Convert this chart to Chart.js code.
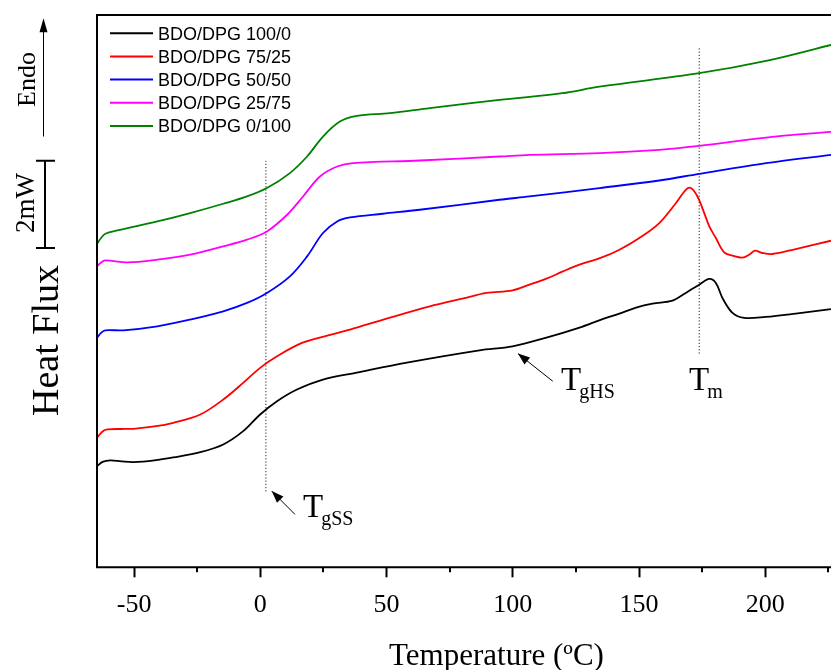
<!DOCTYPE html>
<html>
<head>
<meta charset="utf-8">
<script src="https://cdn.jsdelivr.net/npm/chart.js@4.4.0/dist/chart.umd.min.js"></script>
<style>
  html, body { margin: 0; padding: 0; background: #fff; overflow: hidden; }
  #wrap { position: relative; width: 831px; height: 670px; }
</style>
</head>
<body>
<div id="wrap"><canvas id="dsc"></canvas></div>
<script>
// DSC heating scans for the BDO/DPG chain extender series
// Heat flux in arbitrary units (curves are shifted vertically, axis is unlabelled)

const seriesNames = ['BDO/DPG 100/0', 'BDO/DPG 75/25', 'BDO/DPG 50/50', 'BDO/DPG 25/75', 'BDO/DPG 0/100'];
const seriesColors = ['#000000', '#ff0000', '#0000ff', '#ff00ff', '#008000'];

const xTicks = [-50, 0, 50, 100, 150, 200];
const xMinorTicks = [-25, 25, 75, 125, 175, 225];

// BDO/DPG 100/0
const blackT = [-64.7, -62.5, -59.4, -55, -50.3, -42, -34.5, -23.8, -14.7, -6.8, -0.1, 6.6, 14.5, 24.8, 38.2, 58, 86.8, 99.9, 113.3, 126.4, 135, 142.2, 148.8, 155.3, 163.2, 168.5, 173.8, 177.8, 180.4, 183.0, 187.0, 191.6, 200.2, 212.0, 226];
const blackHF = [10.13, 10.55, 10.7, 10.6, 10.53, 10.7, 11.0, 11.53, 12.3, 13.63, 15.3, 16.63, 17.8, 18.8, 19.5, 20.5, 21.73, 22.13, 23.0, 24.0, 24.8, 25.4, 26.0, 26.4, 26.7, 27.47, 28.3, 28.87, 28.47, 26.97, 25.47, 24.97, 25.07, 25.4, 25.85];

// BDO/DPG 75/25
const redT = [-64.7, -62.5, -60.6, -55, -50.3, -42, -34.5, -23.8, -14.7, -6.8, -0.1, 6.6, 16.5, 27.2, 35.5, 50, 67.1, 80, 89.6, 99.9, 106.6, 113.3, 119.6, 126.4, 135, 142.2, 150.1, 158.0, 164.6, 168.5, 170.5, 173.1, 175.8, 177.8, 180.4, 183.7, 187.0, 190.9, 193.6, 195.9, 198.8, 202.8, 212.0, 226];
const redHF = [12.97, 13.6, 13.8, 13.85, 13.87, 14.1, 14.47, 15.3, 16.8, 18.47, 19.97, 21.13, 22.47, 23.25, 23.8, 24.9, 26.13, 26.9, 27.47, 27.73, 28.3, 28.9, 29.6, 30.3, 31.0, 31.8, 32.97, 34.47, 36.47, 37.8, 37.97, 37.13, 35.47, 34.13, 32.97, 31.53, 31.2, 31.0, 31.3, 31.7, 31.47, 31.37, 31.87, 32.7];

// BDO/DPG 50/50
const blueT = [-64.7, -63, -61.4, -54.3, -40.8, -27.8, -14.7, -5.3, 2.6, 11.7, 18.5, 24.8, 30.4, 35.5, 48.5, 63.1, 94.7, 106.6, 134.3, 158, 173.8, 200.3, 226];
const blueHF = [22.97, 23.5, 23.73, 23.73, 24.13, 24.8, 25.63, 26.47, 27.47, 29.13, 31.13, 33.47, 34.63, 35.03, 35.4, 35.8, 36.8, 37.13, 37.97, 38.73, 39.4, 40.47, 41.3];

// BDO/DPG 25/75
const magentaT = [-64.7, -63, -61.4, -52.7, -40.8, -27.8, -14.7, -5.3, 2.6, 10.6, 16.9, 23.6, 30.4, 36.6, 63.1, 94.7, 106.6, 134.3, 158, 173.8, 200.3, 226];
const magentaHF = [30.13, 30.55, 30.73, 30.53, 30.8, 31.3, 32.13, 32.8, 33.63, 35.3, 37.13, 39.13, 40.13, 40.47, 40.73, 41.13, 41.3, 41.47, 41.8, 42.2, 43.03, 43.6];

// BDO/DPG 0/100
const greenT = [-64.7, -63, -61.4, -56.6, -40.8, -27.8, -14.7, -5.3, 2.6, 11.7, 18.5, 24.8, 31.5, 38.2, 51.3, 67.1, 94.7, 119.6, 134.3, 173.8, 200.3, 226];
const greenHF = [32.4, 33.0, 33.4, 33.73, 34.63, 35.47, 36.4, 37.13, 37.97, 39.47, 41.13, 43.13, 44.63, 45.2, 45.47, 45.97, 46.8, 47.47, 48.13, 49.47, 50.7, 52.3];

// dotted guide lines
const tgssLineT = [2.2, 2.2];
const tgssLineHF = [7.6, 40.7];
const tmLineT = [173.8, 173.8];
const tmLineHF = [21.4, 52.1];

// arrows [tail, head] in (T, HF)
const tgssArrow = [[13.7, 5.3], [4.5, 7.63]];
const tghsArrow = [[115.8, 18.63], [102.0, 21.4]];

// transition labels: main, subscript, T, HF (baseline)
const transLabels = [
    ['T', 'gSS', 16.9, 5.0],
    ['T', 'gHS', 119.1, 17.8],
    ['T', 'm', 169.8, 17.8]
];

// 2 mW scale bar and Endo arrow, in HF units
const scaleBarHF = [31.97, 40.7];
const endoArrowHF = [43.13, 54.97];

const xRange = [-64.7, 226];
const yRange = [0, 55.3];

function toPoints(xs, ys) {
    return xs.map((x, i) => ({ x: x, y: ys[i] }));
}

const curves = [
    [blackT, blackHF], [redT, redHF], [blueT, blueHF], [magentaT, magentaHF], [greenT, greenHF]
];

const datasets = curves.map((c, i) => ({
    label: seriesNames[i],
    data: toPoints(c[0], c[1]),
    borderColor: seriesColors[i],
    borderWidth: 1.8,
    pointRadius: 0,
    tension: 0.35,
    fill: false
}));

[[tgssLineT, tgssLineHF], [tmLineT, tmLineHF]].forEach(l => {
    datasets.push({
        label: 'guide',
        data: toPoints(l[0], l[1]),
        borderColor: '#222',
        borderWidth: 1,
        borderDash: [1.2, 2],
        pointRadius: 0,
        tension: 0,
        fill: false
    });
});

function vText(ctx, str, x, y, font) {
    ctx.save();
    ctx.translate(x, y);
    ctx.rotate(-Math.PI / 2);
    ctx.font = font;
    ctx.textAlign = 'center';
    ctx.textBaseline = 'alphabetic';
    ctx.fillText(str, 0, 0);
    ctx.restore();
}

function arrowHead(ctx, x0, y0, x1, y1, len, half) {
    const a = Math.atan2(y1 - y0, x1 - x0);
    ctx.beginPath();
    ctx.moveTo(x1, y1);
    ctx.lineTo(x1 - len * Math.cos(a) + half * Math.sin(a), y1 - len * Math.sin(a) - half * Math.cos(a));
    ctx.lineTo(x1 - len * Math.cos(a) - half * Math.sin(a), y1 - len * Math.sin(a) + half * Math.cos(a));
    ctx.closePath();
    ctx.fill();
}

const decorPlugin = {
    id: 'decor',
    afterDraw(chart) {
        const ctx = chart.ctx;
        const ca = chart.chartArea;
        const xs = chart.scales.x;
        const ys = chart.scales.y;
        ctx.save();
        ctx.strokeStyle = '#000';
        ctx.fillStyle = '#000';

        // frame (right side is cut off in the original)
        ctx.lineWidth = 2;
        ctx.beginPath();
        ctx.moveTo(chart.width, ca.top);
        ctx.lineTo(ca.left, ca.top);
        ctx.lineTo(ca.left, ca.bottom);
        ctx.lineTo(chart.width, ca.bottom);
        ctx.stroke();

        // minor ticks
        xMinorTicks.forEach(v => {
            const px = Math.round(xs.getPixelForValue(v));
            ctx.beginPath();
            ctx.moveTo(px, ca.bottom);
            ctx.lineTo(px, ca.bottom + 5);
            ctx.stroke();
        });

        // legend
        ctx.font = '18px "Liberation Sans", Arial, sans-serif';
        ctx.textAlign = 'left';
        ctx.textBaseline = 'alphabetic';
        seriesNames.forEach((name, i) => {
            const y = 33.3 + i * 23.15;
            ctx.strokeStyle = seriesColors[i];
            ctx.lineWidth = 2;
            ctx.beginPath();
            ctx.moveTo(110, y);
            ctx.lineTo(153, y);
            ctx.stroke();
            ctx.fillText(name, 158, y + 6.5);
        });
        ctx.strokeStyle = '#000';

        // arrows to the transitions
        ctx.lineWidth = 1;
        [tgssArrow, tghsArrow].forEach(a => {
            const x0 = xs.getPixelForValue(a[0][0]), y0 = ys.getPixelForValue(a[0][1]);
            const x1 = xs.getPixelForValue(a[1][0]), y1 = ys.getPixelForValue(a[1][1]);
            ctx.beginPath();
            ctx.moveTo(x0, y0);
            ctx.lineTo(x1, y1);
            ctx.stroke();
            arrowHead(ctx, x0, y0, x1, y1, 12, 4.5);
        });

        // transition labels with subscripts
        transLabels.forEach(l => {
            const px = xs.getPixelForValue(l[2]);
            const py = ys.getPixelForValue(l[3]);
            ctx.font = '33px "Liberation Serif", "Times New Roman", serif';
            ctx.fillText(l[0], px, py);
            const w = ctx.measureText(l[0]).width;
            ctx.font = '20px "Liberation Serif", "Times New Roman", serif';
            ctx.fillText(l[1], px + w - 2, py + 8);
        });

        // Endo arrow
        const ey0 = ys.getPixelForValue(endoArrowHF[0]);
        const ey1 = ys.getPixelForValue(endoArrowHF[1]);
        ctx.lineWidth = 1;
        ctx.beginPath();
        ctx.moveTo(43.5, ey0);
        ctx.lineTo(43.5, ey1 + 10);
        ctx.stroke();
        arrowHead(ctx, 43.5, ey0, 43.5, ey1, 14, 4);
        vText(ctx, 'Endo', 35, 79.5, '26px "Liberation Serif", "Times New Roman", serif');

        // 2 mW scale bar
        const sb0 = ys.getPixelForValue(scaleBarHF[0]);
        const sb1 = ys.getPixelForValue(scaleBarHF[1]);
        ctx.lineWidth = 2;
        ctx.beginPath();
        ctx.moveTo(45, sb0); ctx.lineTo(45, sb1);
        ctx.moveTo(36, sb0); ctx.lineTo(55, sb0);
        ctx.moveTo(36, sb1); ctx.lineTo(55, sb1);
        ctx.stroke();
        vText(ctx, '2mW', 33.5, 203, '27px "Liberation Serif", "Times New Roman", serif');

        // axis titles
        vText(ctx, 'Heat Flux', 58, 340.5, '38px "Liberation Serif", "Times New Roman", serif');
        ctx.font = '31px "Liberation Serif", "Times New Roman", serif';
        ctx.textAlign = 'center';
        ctx.fillText('Temperature (\u00baC)', 496.5, 665);

        ctx.restore();
    }
};

new Chart(document.getElementById('dsc'), {
    type: 'line',
    data: { datasets: datasets },
    options: {
        responsive: true,
        maintainAspectRatio: false,
        animation: false,
        devicePixelRatio: 1,
        layout: { padding: { left: 97, top: 15, right: 0, bottom: 37.5 } },
        plugins: {
            legend: { display: false },
            tooltip: { enabled: false }
        },
        scales: {
            x: {
                type: 'linear',
                min: xRange[0],
                max: xRange[1],
                afterBuildTicks: s => { s.ticks = xTicks.map(v => ({ value: v })); },
                ticks: {
                    padding: 12,
                    color: '#000',
                    font: { family: '"Liberation Serif", "Times New Roman", serif', size: 26 },
                    callback: v => String(v),
                    maxRotation: 0,
                    autoSkip: false
                },
                grid: {
                    display: true,
                    drawOnChartArea: false,
                    drawTicks: true,
                    tickLength: 10,
                    tickWidth: 2,
                    tickColor: '#000'
                },
                border: { display: false }
            },
            y: {
                display: false,
                min: yRange[0],
                max: yRange[1]
            }
        }
    },
    plugins: [decorPlugin]
});
</script>
</body>
</html>
